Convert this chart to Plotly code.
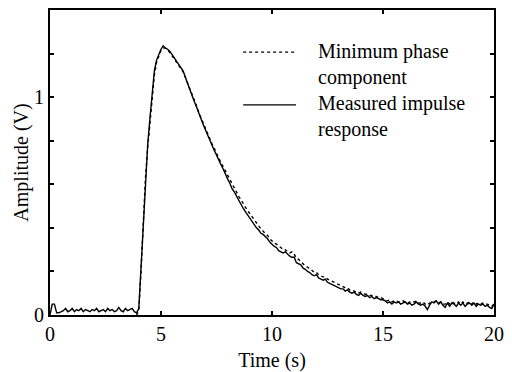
import numpy as np
import plotly.graph_objects as go

# ---- data ----
t_meas = np.round(np.arange(0, 201) * 0.1, 1)
v_meas = [
    # 0.0 - 3.9
    0.00, 0.05, 0.05, 0.01, 0.01,
    0.015, 0.02, 0.03, 0.015, 0.02,
    0.03, 0.015, 0.025, 0.02, 0.03,
    0.015, 0.025, 0.02, 0.015, 0.025,
    0.02, 0.03, 0.015, 0.02, 0.025,
    0.015, 0.03, 0.02, 0.025, 0.015,
    0.02, 0.035, 0.02, 0.015, 0.03,
    0.02, 0.025, 0.03, 0.015, 0.01,
    # 4.0 - 5.9
    0.03, 0.22, 0.45, 0.65, 0.78, 0.90, 1.02, 1.12, 1.17, 1.20,
    1.22, 1.235, 1.225, 1.22, 1.21, 1.195, 1.18, 1.165, 1.15, 1.135,
    # 6.0 - 9.9
    1.12, 1.09, 1.06, 1.035, 1.005, 0.98, 0.955, 0.925, 0.90, 0.875,
    0.85, 0.825, 0.80, 0.78, 0.755, 0.735, 0.71, 0.69, 0.67, 0.645,
    0.625, 0.605, 0.58, 0.565, 0.545, 0.525, 0.505, 0.49, 0.475, 0.46,
    0.445, 0.425, 0.415, 0.40, 0.39, 0.375, 0.37, 0.36, 0.35, 0.335,
    # 10.0 - 14.9
    0.325, 0.315, 0.31, 0.295, 0.29, 0.285, 0.29, 0.28, 0.27, 0.265,
    0.265, 0.24, 0.235, 0.23, 0.215, 0.21, 0.20, 0.195, 0.185, 0.18,
    0.185, 0.17, 0.165, 0.16, 0.165, 0.15, 0.145, 0.14, 0.135, 0.13,
    0.125, 0.12, 0.12, 0.11, 0.115, 0.105, 0.10, 0.105, 0.095, 0.09,
    0.10, 0.09, 0.085, 0.09, 0.08, 0.085, 0.075, 0.08, 0.075, 0.07,
    # 15.0 - 20.0
    0.07, 0.065, 0.055, 0.06, 0.05, 0.06, 0.055, 0.06, 0.05, 0.055,
    0.06, 0.05, 0.055, 0.045, 0.05, 0.06, 0.05, 0.045, 0.05, 0.04,
    0.025, 0.045, 0.06, 0.055, 0.065, 0.05, 0.06, 0.045, 0.035, 0.055,
    0.04, 0.055, 0.05, 0.04, 0.055, 0.045, 0.055, 0.04, 0.05, 0.055,
    0.045, 0.055, 0.04, 0.05, 0.045, 0.05, 0.04, 0.045, 0.035, 0.03, 0.05,
]

t_min = np.round(np.arange(39, 201) * 0.1, 1)
v_min = [
    # 3.9 - 5.9
    0.0, 0.02, 0.20, 0.43, 0.63, 0.77, 0.89, 1.00, 1.10, 1.16, 1.19,
    1.215, 1.225, 1.225, 1.215, 1.205, 1.19, 1.175, 1.16, 1.145, 1.13,
    # 6.0 - 9.9
    1.115, 1.09, 1.065, 1.04, 1.01, 0.985, 0.96, 0.93, 0.905, 0.88,
    0.855, 0.83, 0.81, 0.785, 0.765, 0.74, 0.72, 0.70, 0.68, 0.66,
    0.64, 0.62, 0.60, 0.585, 0.565, 0.545, 0.53, 0.51, 0.495, 0.48,
    0.465, 0.45, 0.435, 0.42, 0.41, 0.395, 0.385, 0.375, 0.365, 0.35,
    # 10.0 - 14.9
    0.34, 0.33, 0.325, 0.315, 0.31, 0.30, 0.30, 0.29, 0.285, 0.29,
    0.28, 0.26, 0.255, 0.245, 0.235, 0.225, 0.22, 0.21, 0.205, 0.195,
    0.195, 0.185, 0.18, 0.175, 0.175, 0.165, 0.16, 0.155, 0.15, 0.145,
    0.14, 0.135, 0.13, 0.125, 0.125, 0.115, 0.115, 0.11, 0.105, 0.10,
    0.105, 0.10, 0.095, 0.095, 0.09, 0.09, 0.085, 0.085, 0.08, 0.08,
    # 15.0 - 20.0
    0.075, 0.07, 0.065, 0.07, 0.06, 0.065, 0.065, 0.06, 0.06, 0.065,
    0.06, 0.055, 0.06, 0.055, 0.06, 0.065, 0.055, 0.055, 0.06, 0.05,
    0.045, 0.055, 0.06, 0.06, 0.065, 0.055, 0.06, 0.05, 0.05, 0.06,
    0.05, 0.06, 0.055, 0.05, 0.06, 0.05, 0.06, 0.05, 0.055, 0.06,
    0.05, 0.06, 0.05, 0.055, 0.05, 0.055, 0.05, 0.05, 0.045, 0.04, 0.05,
]

x_ticks = [0, 5, 10, 15, 20]
y_ticks = [0, 0.2, 0.4, 0.6, 0.8, 1.0, 1.2]
y_tick_text = ["0", "", "", "", "", "1", ""]
legend_names = ["Minimum phase<br>component", "Measured impulse<br>response"]

FONT = "'Times New Roman', 'Liberation Serif', 'DejaVu Serif', serif"
INK = "#000000"

fig = go.Figure()
fig.add_trace(go.Scatter(x=t_min, y=v_min, mode="lines", name=legend_names[0],
                         line=dict(color=INK, width=1.4, dash="dot")))
fig.add_trace(go.Scatter(x=t_meas, y=v_meas, mode="lines", name=legend_names[1],
                         line=dict(color=INK, width=1.4)))

# manual legend (line samples + labels)
samples = [("dot", 0.862, 0.821), ("solid", 0.689, 0.651)]
for (dash, ly, ty), name in zip(samples, legend_names):
    fig.add_shape(type="line", xref="paper", yref="paper", x0=0.435, x1=0.554,
                  y0=ly, y1=ly, line=dict(color=INK, width=1.4, dash=dash))
    fig.add_annotation(xref="paper", yref="paper", x=0.599, y=ty, text=name,
                       showarrow=False, xanchor="left", yanchor="middle", align="left",
                       font=dict(family=FONT, size=20, color=INK))

axis_common = dict(showline=True, linewidth=2, linecolor=INK, mirror="allticks",
                   ticks="inside", ticklen=4, tickwidth=2, tickcolor=INK,
                   showgrid=False, zeroline=False, automargin=False,
                   tickfont=dict(family=FONT, size=20, color=INK))

fig.update_xaxes(range=[0, 20], tickvals=x_ticks,
                 title=dict(text="Time (s)", standoff=10,
                            font=dict(family=FONT, size=20, color=INK)),
                 **axis_common)
fig.update_yaxes(range=[0, 1.4], tickvals=y_ticks, ticktext=y_tick_text,
                 title=dict(text="Amplitude (V)", standoff=0,
                            font=dict(family=FONT, size=20, color=INK)),
                 **axis_common)

fig.update_layout(width=512, height=372, margin=dict(l=50, r=18, t=10, b=57),
                  paper_bgcolor="white", plot_bgcolor="white", showlegend=False,
                  font=dict(family=FONT, color=INK))

fig.write_html("out.html")
